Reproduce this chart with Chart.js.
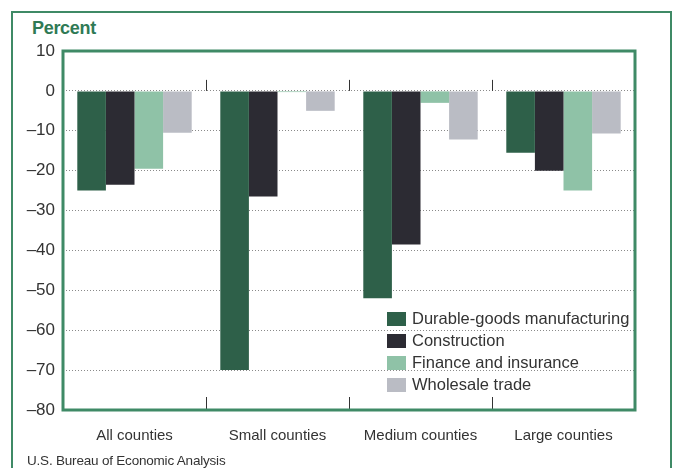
<!DOCTYPE html>
<html>
<head>
<meta charset="utf-8">
<script src="https://cdn.jsdelivr.net/npm/chart.js@4.4.1/dist/chart.umd.min.js"></script>
<style>
    html, body { margin: 0; padding: 0; background: #fff; }
    body { width: 673px; height: 468px; position: relative; overflow: hidden; font-family: "Liberation Sans", Arial, sans-serif; }
    #frame { position: absolute; left: 11px; top: 11px; width: 657px; height: 480px; border: 2px solid #3f8a66; }
    #unit { position: absolute; left: 32px; top: 18px; font-size: 18px; font-weight: bold; color: #2f7a55; letter-spacing: -0.3px; }
    #source { position: absolute; left: 27px; top: 453px; font-size: 13.5px; color: #333; letter-spacing: -0.2px; }
    #wrap { position: absolute; left: 0; top: 0; width: 673px; height: 468px; }
</style>
</head>
<body>
<div id="frame"></div>
<div id="unit">Percent</div>
<div id="wrap"><canvas id="barChart"></canvas></div>
<div id="source">U.S. Bureau of Economic Analysis</div>
<script>
// Chart data
const categories = ['All counties', 'Small counties', 'Medium counties', 'Large counties'];
const durableGoods = [-25, -70, -52, -15.5];
const construction = [-23.5, -26.5, -38.5, -20];
const financeInsurance = [-19.5, -0.3, -3, -25];
const wholesaleTrade = [-10.5, -5, -12.2, -10.7];
const yTicks = [10, 0, -10, -20, -30, -40, -50, -60, -70, -80];

const seriesNames = ['Durable-goods manufacturing', 'Construction', 'Finance and insurance', 'Wholesale trade'];
const seriesColors = ['#2e6049', '#2c2b33', '#8fc2a7', '#babcc4'];

// Green box round the plot area
const plotFrame = {
    id: 'plotFrame',
    afterDraw(chart) {
        const { ctx, chartArea: a } = chart;
        ctx.save();
        ctx.strokeStyle = '#3f8a66';
        ctx.lineWidth = 3;
        ctx.strokeRect(a.left, a.top, a.right - a.left, a.bottom - a.top);
        ctx.restore();
    }
};

// Short tick marks between categories, at zero line and bottom
const categoryTicks = {
    id: 'categoryTicks',
    afterDatasetsDraw(chart) {
        const { ctx, chartArea: a } = chart;
        const x = chart.scales.x;
        const y0 = chart.scales.y.getPixelForValue(0);
        ctx.save();
        ctx.strokeStyle = '#333';
        ctx.lineWidth = 1;
        for (let i = 1; i < categories.length; i++) {
            const px = Math.round((x.getPixelForValue(i - 1) + x.getPixelForValue(i)) / 2) + 0.5;
            ctx.beginPath();
            ctx.moveTo(px, y0 - 11);
            ctx.lineTo(px, y0);
            ctx.moveTo(px, a.bottom - 13);
            ctx.lineTo(px, a.bottom);
            ctx.stroke();
        }
        ctx.restore();
    }
};

// Legend drawn inside the plot area
const innerLegend = {
    id: 'innerLegend',
    afterDraw(chart) {
        const { ctx, chartArea: a } = chart;
        const left = a.left + 324;
        const top = a.top + 268;
        ctx.save();
        ctx.font = '16.5px "Liberation Sans", Arial, sans-serif';
        ctx.textBaseline = 'middle';
        chart.data.datasets.forEach((ds, i) => {
            const cy = top + i * 22;
            ctx.fillStyle = ds.backgroundColor;
            ctx.fillRect(left, cy - 7, 19, 14);
            ctx.fillStyle = '#333';
            ctx.fillText(ds.label, left + 25, cy);
        });
        ctx.restore();
    }
};

function initializeBarChart() {
    const ctx = document.getElementById('barChart').getContext('2d');
    const values = [durableGoods, construction, financeInsurance, wholesaleTrade];

    new Chart(ctx, {
        type: 'bar',
        data: {
            labels: categories,
            datasets: values.map((data, i) => ({
                label: seriesNames[i],
                data: data,
                backgroundColor: seriesColors[i],
                borderWidth: 0,
                categoryPercentage: 0.8,
                barPercentage: 1.0
            }))
        },
        options: {
            responsive: true,
            maintainAspectRatio: false,
            animation: false,
            layout: {
                padding: { left: 13, top: 51, right: 38, bottom: 18 }
            },
            scales: {
                x: {
                    grid: { display: false },
                    border: { display: false },
                    ticks: {
                        color: '#333',
                        padding: 9,
                        font: { family: '"Liberation Sans", Arial, sans-serif', size: 15 }
                    },
                    afterFit: scale => { scale.height = 40; }
                },
                y: {
                    min: -80,
                    max: 10,
                    afterBuildTicks: scale => {
                        scale.ticks = yTicks.map(v => ({ value: v }));
                    },
                    grid: {
                        drawTicks: false,
                        lineWidth: 1,
                        color: c => (c.tick && (c.tick.value === 10 || c.tick.value === -80)) ? 'rgba(0,0,0,0)' : '#8a8a8a'
                    },
                    border: { display: false, dash: [1, 2] },
                    ticks: {
                        color: '#333',
                        padding: 8,
                        font: { family: '"Liberation Sans", Arial, sans-serif', size: 17 },
                        callback: v => v < 0 ? '\u2013' + Math.abs(v) : String(v)
                    },
                    afterFit: scale => { scale.width = 50; }
                }
            },
            plugins: {
                legend: { display: false },
                tooltip: { enabled: false }
            }
        },
        plugins: [categoryTicks, plotFrame, innerLegend]
    });
}

document.addEventListener('DOMContentLoaded', initializeBarChart);
</script>
</body>
</html>
